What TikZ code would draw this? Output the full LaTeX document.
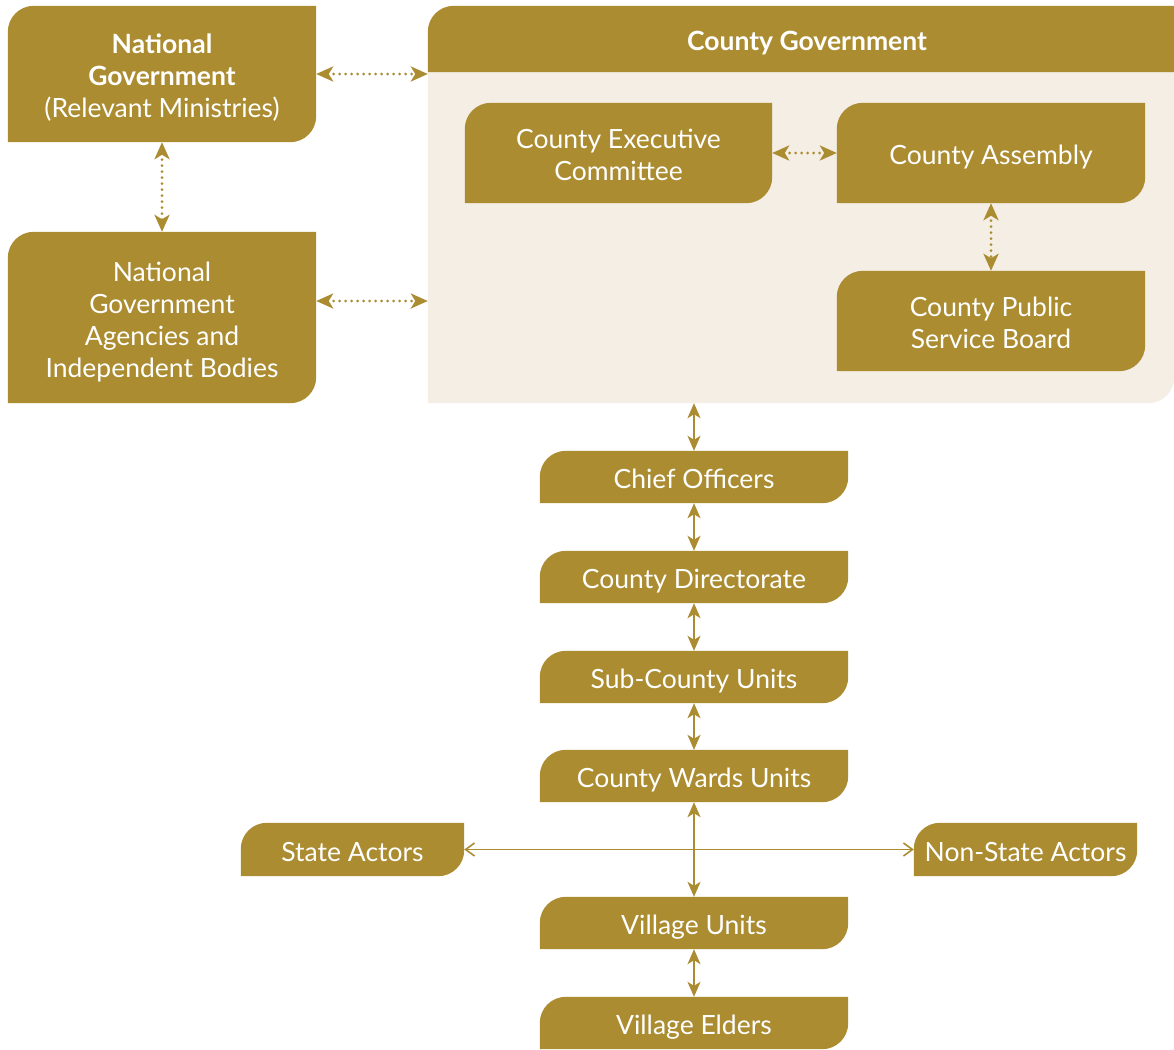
\documentclass[tikz,border=0pt]{standalone}
\usepackage{fontspec}
\setmainfont{Lato}
\usetikzlibrary{arrows.meta,backgrounds}
\definecolor{gold}{RGB}{171,140,49}
\definecolor{beige}{RGB}{244,238,228}
\newcommand\tabshape[3][26]{%
  \fill[#3] (#2.south west) -- ([yshift=-#1pt]#2.north west)
    arc[start angle=180,end angle=90,radius=#1pt] -- (#2.north east)
    -- ([yshift=#1pt]#2.south east)
    arc[start angle=0,end angle=-90,radius=#1pt] -- cycle;}
\newcommand\topst{\rule{0pt}{30pt}}
\newcommand\botst{\rule[-6.6pt]{0pt}{0pt}}
\tikzset{
  box/.style={inner sep=0pt, text=white, align=center,
    font=\fontsize{26.5}{32}\selectfont},
  dotarrow/.style={gold, line width=3pt, line cap=round,
    dash pattern=on 0pt off 6pt,
    {Stealth[length=17pt,width=15pt,inset=4.5pt]}-{Stealth[length=17pt,width=15pt,inset=4.5pt]}},
  solidarrow/.style={gold, line width=1.8pt,
    {Stealth[length=15pt,width=13pt,inset=4pt]}-{Stealth[length=15pt,width=13pt,inset=4pt]}},
  thinarrow/.style={gold, line width=1.6pt,
    {Straight Barb[length=9pt,width=13pt]}-{Straight Barb[length=9pt,width=13pt]}}
}
\begin{document}
\begin{tikzpicture}[x=1pt,y=-1pt]
\useasboundingbox (0,0) rectangle (1174,1049);
% nodes
\node[box, minimum width=308pt, minimum height=136pt] (ng) at (162,74)
  {\topst\textbf{National}\\\textbf{Government}\\(Relevant Ministries)\botst};
\node[box, minimum width=308pt, minimum height=171pt] (ag) at (162,317.5)
  {\topst National\\Government\\Agencies and\\Independent Bodies\botst};
\node[box, minimum width=746pt, minimum height=397pt] (cg) at (801,204.5) {};
\node[box, minimum width=746pt, minimum height=66pt] (cgh) at (801,39)
  {\hspace*{12pt}\topst\textbf{County Government}\botst};
\node[box, minimum width=307pt, minimum height=100pt] (cec) at (618.5,153)
  {\topst County Executive\\Committee\botst};
\node[box, minimum width=308pt, minimum height=100pt] (ca) at (991,153)
  {\topst County Assembly\botst};
\node[box, minimum width=308pt, minimum height=100pt] (cpsb) at (991,321)
  {\topst County Public\\Service Board\botst};
\node[box, minimum width=308pt, minimum height=52pt] (co) at (694,477) {\topst Chief Officers\botst};
\node[box, minimum width=308pt, minimum height=52pt] (cd) at (694,577) {\topst County Directorate\botst};
\node[box, minimum width=308pt, minimum height=52pt] (sc) at (694,677) {\topst Sub-County Units\botst};
\node[box, minimum width=308pt, minimum height=52pt] (cw) at (694,776) {\topst County Wards Units\botst};
\node[box, minimum width=223pt, minimum height=53pt] (sa) at (352.5,849.5) {\topst State Actors\botst};
\node[box, minimum width=223pt, minimum height=53pt] (nsa) at (1025.5,849.5) {\topst Non-State Actors\botst};
\node[box, minimum width=308pt, minimum height=52pt] (vu) at (694,923) {\topst Village Units\botst};
\node[box, minimum width=308pt, minimum height=52pt] (ve) at (694,1023) {\topst Village Elders\botst};
% shapes
\begin{scope}[on background layer]
  \tabshape{cg}{beige}
  \fill[gold] (cgh.south west) -- ([yshift=-26pt]cgh.north west)
    arc[start angle=180,end angle=90,radius=26pt] -- (cgh.north east)
    -- (cgh.south east) -- cycle;
  \foreach \n in {ng,ag,cec,ca,cpsb,co,cd,sc,cw,sa,nsa,vu,ve}{\tabshape{\n}{gold}}
\end{scope}
% connectors
\draw[dotarrow] (ng.east) -- (ng.east -| cg.west);
\draw[dotarrow] ([yshift=16.5pt]ag.east) -- ([yshift=16.5pt]ag.east -| cg.west);
\draw[dotarrow] (ng.south) -- (ag.north);
\draw[dotarrow] (cec.east) -- (ca.west);
\draw[dotarrow] (ca.south) -- (cpsb.north);
\draw[solidarrow] (co.north |- cg.south) -- (co.north);
\draw[solidarrow] (co.south) -- (cd.north);
\draw[solidarrow] (cd.south) -- (sc.north);
\draw[solidarrow] (sc.south) -- (cw.north);
\draw[solidarrow] (cw.south) -- (vu.north);
\draw[solidarrow] (vu.south) -- (ve.north);
\draw[thinarrow] (sa.east) -- (nsa.west);
\end{tikzpicture}
\end{document}
